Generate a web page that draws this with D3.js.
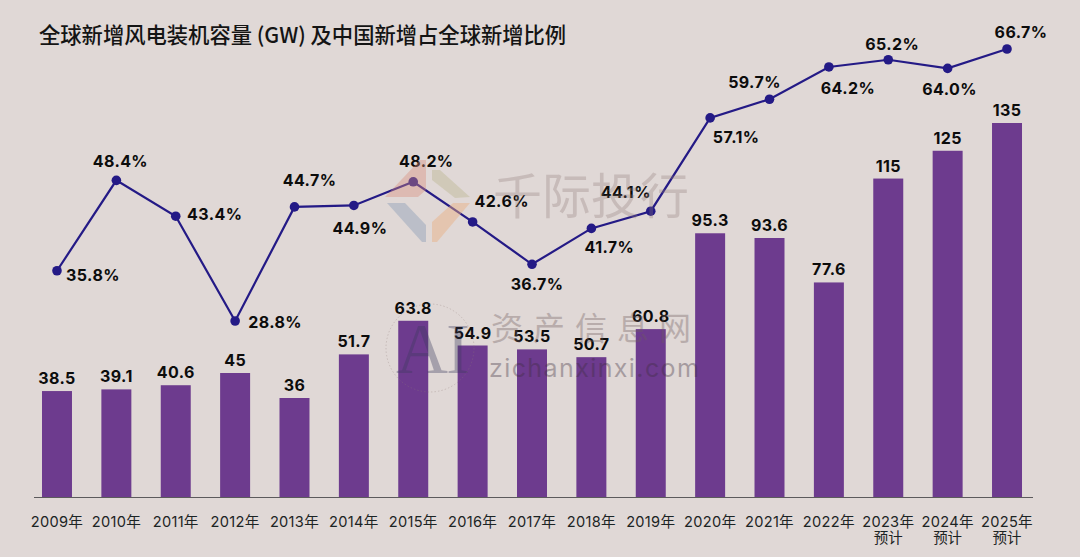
<!DOCTYPE html>
<html><head><meta charset="utf-8">
<script src="https://cdn.jsdelivr.net/npm/d3@7"></script>
<style>html,body{margin:0;padding:0;background:#e0d8d6}svg{display:block}</style>
</head><body><svg id="c" width="1080" height="557"></svg>
<script>
const years=["2009年","2010年","2011年","2012年","2013年","2014年","2015年","2016年","2017年","2018年","2019年","2020年","2021年","2022年","2023年","2024年","2025年"];
const forecastNote=["","","","","","","","","","","","","","","预计","预计","预计"];
const capacity=[38.5,39.1,40.6,45,36,51.7,63.8,54.9,53.5,50.7,60.8,95.3,93.6,77.6,115,125,135];
const capacityText=["38.5","39.1","40.6","45","36","51.7","63.8","54.9","53.5","50.7","60.8","95.3","93.6","77.6","115","125","135"];
const share=[35.8,48.4,43.4,28.8,44.7,44.9,48.2,42.6,36.7,41.7,44.1,57.1,59.7,64.2,65.2,64.0,66.7];
const titleText="全球新增风电装机容量 (GW) 及中国新增占全球新增比例";
// label placement relative to each share point
const labelDx=[36,4,39,40,15,6,13,29,5,18,-25,26,-15,19,4,2,14];
const labelDy=[5,-19,-2,1,-26,23,-20,-20,20,19,-19,20,-17,22,-15,21,-17];
const W=1080,H=557;
const cjk='"Noto Sans CJK SC","Noto Sans",sans-serif';
const num='Inter,"Noto Sans CJK SC",sans-serif';
const svg=d3.select("#c");
svg.append("rect").attr("width",W).attr("height",H).attr("fill","#e0d8d6");
const x=d3.scaleBand().domain(years).range([27.3,1036.7]).paddingInner(0.495).paddingOuter(0.2475);
const y=d3.scaleLinear().domain([0,135]).range([498,123]);
const y2=d3.scaleLinear().domain([28.8,66.7]).range([321,49]);
const cx=d=>x(d)+x.bandwidth()/2;

svg.append("text").attr("x",39).attr("y",43).attr("font-family",cjk).attr("font-weight",500).attr("font-size",21.3).attr("fill","#141414").text(titleText);

svg.append("g").selectAll("rect").data(years).join("rect")
 .attr("x",d=>x(d)).attr("width",x.bandwidth())
 .attr("y",(d,i)=>y(capacity[i])).attr("height",(d,i)=>y(0)-y(capacity[i])).attr("fill","#6d3b8e");

// axis
const ax=svg.append("g").attr("transform","translate(0,497)").call(d3.axisBottom(x).tickSize(0).tickPadding(0));
ax.select(".domain").attr("d","M34,0.5H1033").attr("stroke","#5c5a5c").attr("stroke-width",1);
ax.selectAll("text").remove();
svg.append("g").selectAll("text").data(years).join("text")
 .attr("x",cx).attr("y",527).attr("text-anchor","middle").attr("font-family",num).attr("font-size",14.6).attr("letter-spacing",.3).attr("fill","#1c2424").text(d=>d);
svg.append("g").selectAll("text").data(years).join("text")
 .attr("x",cx).attr("y",543).attr("text-anchor","middle").attr("font-family",cjk).attr("font-size",14.5).attr("fill","#1c2424").text((d,i)=>forecastNote[i]);

svg.append("g").selectAll("text").data(years).join("text")
 .attr("x",cx).attr("y",(d,i)=>y(capacity[i])-7).attr("text-anchor","middle").attr("font-family",num).attr("font-weight",700).attr("font-size",16).attr("letter-spacing",.4).attr("fill","#0c0c0c").text((d,i)=>capacityText[i]);

const line=d3.line().x(d=>cx(d)).y(d=>y2(share[years.indexOf(d)]));
svg.append("path").attr("d",line(years)).attr("fill","none").attr("stroke","#241a86").attr("stroke-width",2.2);
svg.append("g").selectAll("circle").data(years).join("circle").attr("cx",cx).attr("cy",(d,i)=>y2(share[i])).attr("r",4.8).attr("fill","#241a86");
svg.append("g").selectAll("text").data(years).join("text")
 .attr("x",(d,i)=>cx(d)+labelDx[i]).attr("y",(d,i)=>y2(share[i])+labelDy[i]+5.5)
 .attr("text-anchor","middle").attr("font-family",num).attr("font-weight",700).attr("font-size",16).attr("letter-spacing",.4).attr("fill","#0c0c0c")
 .text((d,i)=>share[i].toFixed(1)+"%");

// watermarks
const wm=svg.append("g").attr("pointer-events","none");
wm.append("polygon").attr("points","385,197 420,160 426,160 426,190 418,197").attr("fill","#d98f7c").attr("opacity",.4);
wm.append("polygon").attr("points","432,170 440,170 470,197 455,198 432,180").attr("fill","#b9b48c").attr("opacity",.4);
wm.append("polygon").attr("points","387,203 405,203 426,225 426,242 422,242").attr("fill","#8f9fb8").attr("opacity",.45);
wm.append("polygon").attr("points","470,203 453,203 432,222 432,242 437,242").attr("fill","#e8b080").attr("opacity",.45);
wm.append("text").attr("x",493).attr("y",214).attr("font-family",cjk).attr("font-size",49).attr("fill","#8f7a78").attr("opacity",.3).text("千际投行");
wm.append("text").attr("x",491).attr("y",340).attr("font-family",cjk).attr("font-size",32).attr("letter-spacing",10).attr("fill","#6f5c5e").attr("opacity",.35).text("资产信息网");
wm.append("text").attr("x",489).attr("y",377).attr("font-family",num).attr("font-size",25).attr("letter-spacing",1.4).attr("fill","#3a2c3a").attr("opacity",.35).text("zichanxinxi.com");
wm.append("text").attr("x",396).attr("y",373).attr("font-family",'"Liberation Serif",serif').attr("font-size",72).attr("letter-spacing",-2).attr("fill","#3a3a5c").attr("opacity",.35).text("AI");
wm.append("circle").attr("cx",430).attr("cy",348).attr("r",44).attr("fill","none").attr("stroke","#8f7a78").attr("stroke-dasharray","1.5 2").attr("opacity",.3);
</script></body></html>
